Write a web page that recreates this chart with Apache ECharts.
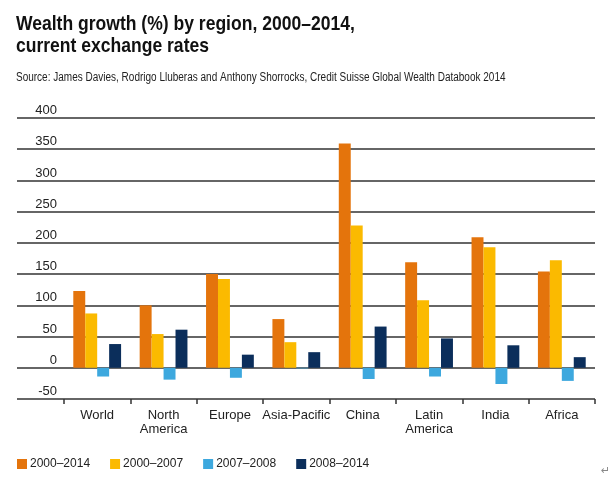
<!DOCTYPE html>
<html>
<head>
<meta charset="utf-8">
<script src="https://cdn.jsdelivr.net/npm/echarts@6/dist/echarts.min.js"></script>
<style>html,body{margin:0;padding:0;background:#fff}#c{width:615px;height:479px}</style>
</head>
<body>
<div id="c"></div>
<script>
const categories = ['World', 'North\nAmerica', 'Europe', 'Asia-Pacific', 'China', 'Latin\nAmerica', 'India', 'Africa'];
const seriesNames = ['2000–2014', '2000–2007', '2007–2008', '2008–2014'];
const s2000_2014 = [123, 100, 150, 78, 359, 169, 209, 154];
const s2000_2007 = [87, 54, 142, 41, 228, 108, 193, 172];
const s2007_2008 = [-14, -19, -16, -1, -18, -14, -26, -21];
const s2008_2014 = [38, 61, 21, 25, 66, 47, 36, 17];
const yTicks = { min: -50, max: 400, interval: 50 };
const colors = ['#E4740C', '#FBBA00', '#3DA8DE', '#0B2E5B'];
const titleText = 'Wealth growth (%) by region, 2000–2014,\ncurrent exchange rates';
const sourceText = 'Source: James Davies, Rodrigo Lluberas and Anthony Shorrocks, Credit Suisse Global Wealth Databook 2014';

const FONT = 'Liberation Sans';
const chart = echarts.init(document.getElementById('c'), null, { renderer: 'canvas' });
const values = [s2000_2014, s2000_2007, s2007_2008, s2008_2014];

chart.setOption({
  animation: false,
  textStyle: { fontFamily: FONT },
  legend: {
    left: 12, top: 453, itemWidth: 10, itemHeight: 10, icon: 'rect', itemGap: 20,
    textStyle: { fontFamily: FONT, fontSize: 12, color: '#222', padding: [0, 0, 0, -2] },
    data: seriesNames
  },
  grid: [
    { left: 17, right: 20, top: 118, bottom: 80 },
    { left: 64, right: 20, top: 118, bottom: 80 }
  ],
  xAxis: [
    { type: 'value', gridIndex: 0, show: false, min: 0, max: 1 },
    { type: 'category', gridIndex: 1, data: categories,
      axisLine: { show: false, onZero: false },
      axisTick: { show: true, length: 5, lineStyle: { color: '#333', width: 1.5 } },
      axisLabel: { fontFamily: FONT, fontSize: 13, color: '#222', lineHeight: 14, margin: 9, interval: 0 } }
  ],
  yAxis: [
    { type: 'value', gridIndex: 0, min: yTicks.min, max: yTicks.max, interval: yTicks.interval,
      axisLine: { show: false }, axisTick: { show: false },
      splitLine: { show: true, lineStyle: { color: '#333', width: 1.5 } },
      axisLabel: { fontFamily: FONT, fontSize: 13, color: '#222', margin: -40, align: 'right', verticalAlign: 'bottom', padding: [0, 0, 1, 0] } },
    { type: 'value', gridIndex: 1, min: yTicks.min, max: yTicks.max, interval: yTicks.interval, show: false }
  ],
  series: seriesNames.map((n, i) => ({
    name: n, type: 'bar', xAxisIndex: 1, yAxisIndex: 1, data: values[i],
    itemStyle: { color: colors[i] }, barGap: '0%', barCategoryGap: '28%'
  })),
  graphic: [
    { type: 'text', x: 16, y: 13, scaleX: 0.835,
      style: { text: titleText, fontSize: 21, fontWeight: 'bold', fontFamily: FONT, fill: '#111', lineHeight: 22, verticalAlign: 'top', align: 'left' } },
    { type: 'text', x: 16, y: 78, scaleX: 0.80,
      style: { text: sourceText, fontSize: 12.5, fontFamily: FONT, fill: '#222', verticalAlign: 'middle', align: 'left' } },
    { type: 'text', left: 601, top: 466, style: { text: '↵', fontSize: 11, fill: '#888', fontFamily: 'DejaVu Sans' } }
  ]
});
</script>
</body>
</html>
